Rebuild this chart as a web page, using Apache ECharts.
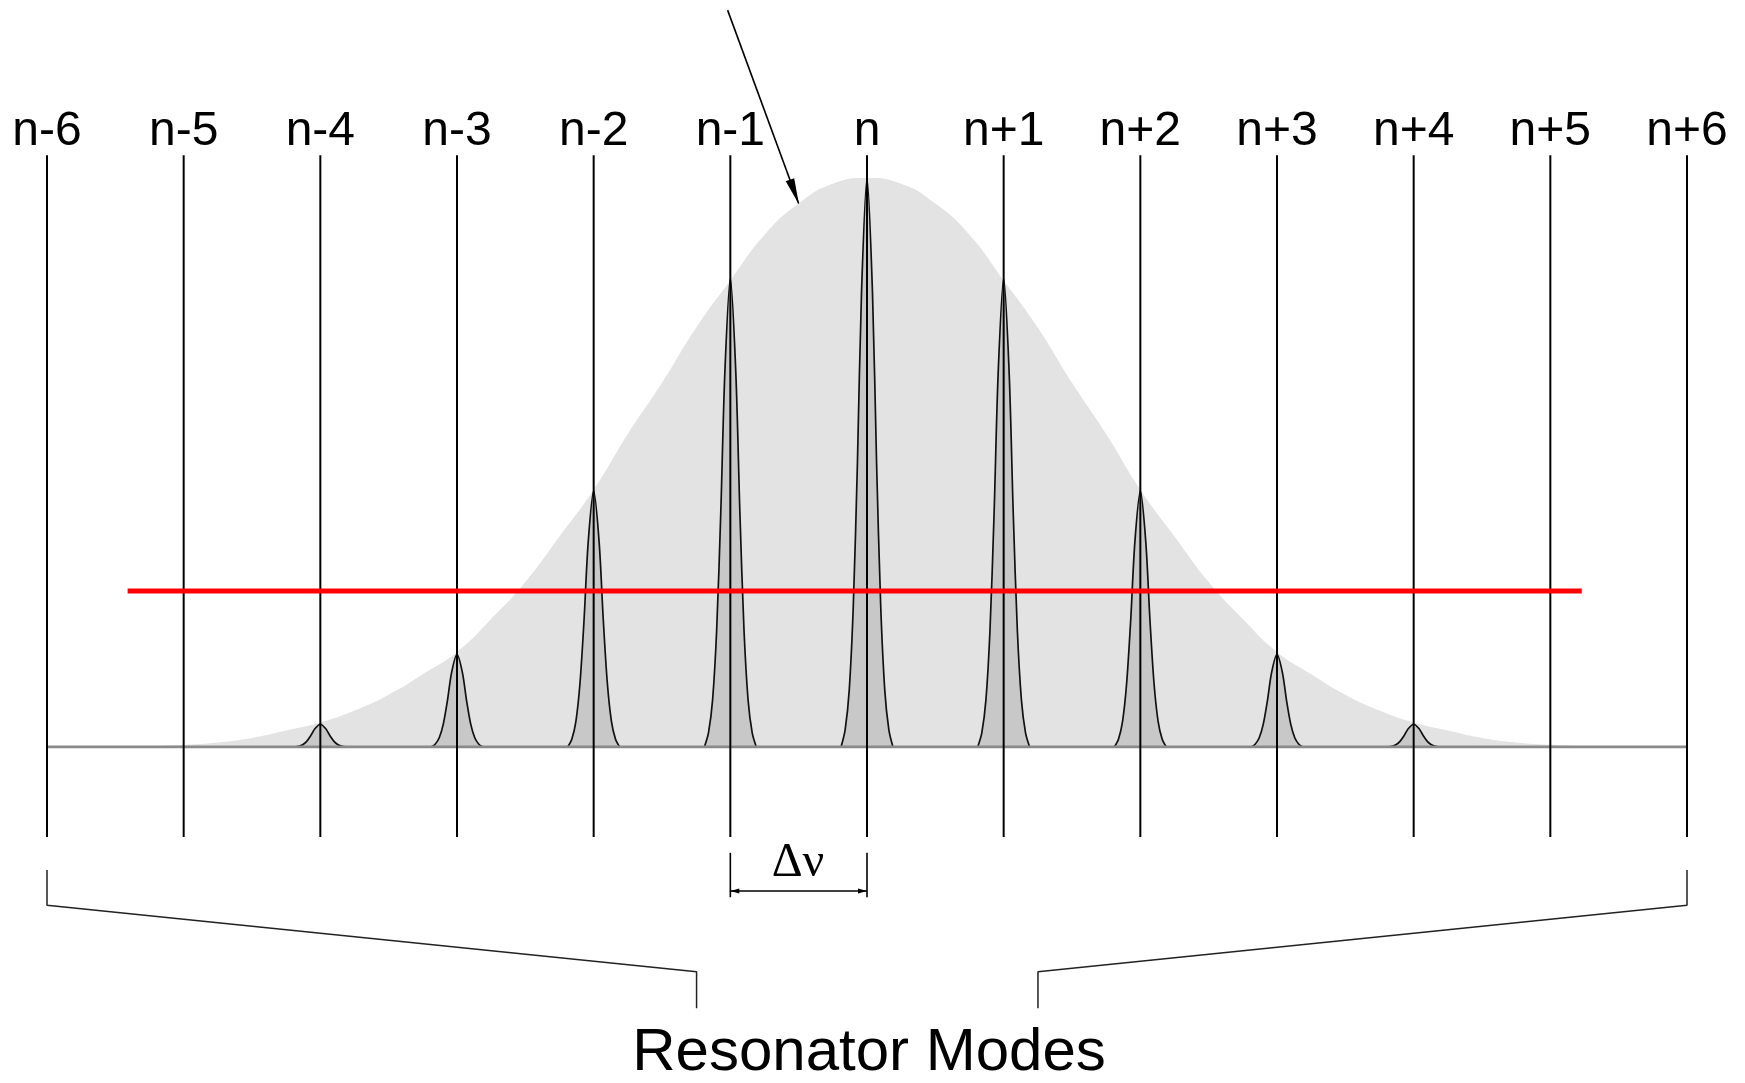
<!DOCTYPE html>
<html>
<head>
<meta charset="utf-8">
<title>Resonator Modes</title>
<script src="https://cdn.jsdelivr.net/npm/echarts@6/dist/echarts.min.js"></script>
<style>
  html, body { margin: 0; padding: 0; background: #fff; }
  #chart { width: 1745px; height: 1083px; }
</style>
</head>
<body>
<div id="chart"></div>
<script>
// resonator modes, x = offset from mode n (in units of mode spacing)
const modeOffsets = [-6, -5, -4, -3, -2, -1, 0, 1, 2, 3, 4, 5, 6]
const modeLabels = ['n-6', 'n-5', 'n-4', 'n-3', 'n-2', 'n-1', 'n', 'n+1', 'n+2', 'n+3', 'n+4', 'n+5', 'n+6']
// height of each mode line, relative to the gain maximum
const modeHeights = [0, 0, 0.04, 0.163, 0.45, 0.823, 1.0, 0.823, 0.45, 0.163, 0.04, 0, 0]

// gain envelope (grey area)
const gainX = [-6, -5.5, -5, -4.75, -4.5, -4.25, -4, -3.75, -3.5, -3.25, -3, -2.75, -2.5, -2.25, -2, -1.75, -1.5, -1.25, -1, -0.75, -0.5, -0.25,
  0, 0.25, 0.5, 0.75, 1, 1.25, 1.5, 1.75, 2, 2.25, 2.5, 2.75, 3, 3.25, 3.5, 3.75, 4, 4.25, 4.5, 4.75, 5, 5.5, 6]
const gainY = [0, 0, 0.004, 0.008, 0.016, 0.029, 0.043, 0.064, 0.092, 0.128, 0.167, 0.225, 0.29, 0.37, 0.452, 0.55, 0.64, 0.737, 0.82, 0.9, 0.955, 0.99,
  1.0, 0.99, 0.955, 0.9, 0.82, 0.737, 0.64, 0.55, 0.452, 0.37, 0.29, 0.225, 0.167, 0.128, 0.092, 0.064, 0.043, 0.029, 0.016, 0.008, 0.004, 0, 0]

// profile of a single mode line: offset from its centre, fraction of its height
const lineShapeX = [-0.19, -0.16, -0.13, -0.1, -0.07, -0.04, 0, 0.04, 0.07, 0.1, 0.13, 0.16, 0.19]
const lineShapeY = [0, 0.03, 0.1, 0.25, 0.5, 0.8, 1, 0.8, 0.5, 0.25, 0.1, 0.03, 0]

// red threshold line
const thresholdLevel = 0.274
const thresholdFrom = -5.41
const thresholdTo = 5.23

const chart = echarts.init(document.getElementById('chart'))

let series = []

// gain envelope
series.push({
  type: 'line',
  data: gainX.map((x, i) => [x, gainY[i]]),
  smooth: 0.5,
  symbol: 'none',
  lineStyle: { width: 0 },
  areaStyle: { color: '#e3e3e3', opacity: 1 },
  z: 1,
  silent: true
})

// mode lines
modeOffsets.forEach((m, i) => {
  if (!modeHeights[i]) return
  series.push({
    type: 'line',
    data: lineShapeX.map((dx, j) => [m + dx, modeHeights[i] * lineShapeY[j]]),
    smooth: 0.3,
    symbol: 'none',
    lineStyle: { color: '#111', width: 1.7 },
    areaStyle: { color: '#c8c8c8', opacity: 1 },
    z: 2,
    silent: true
  })
})

// vertical mode markers
modeOffsets.forEach(m => {
  series.push({
    type: 'line',
    data: [[m, 1.04], [m, -0.158]],
    symbol: 'none',
    clip: false,
    lineStyle: { color: '#000', width: 2 },
    z: 4,
    silent: true
  })
})

// baseline
series.push({
  type: 'line',
  data: [[-6, 0], [6, 0]],
  symbol: 'none',
  lineStyle: { color: '#8a8a8a', width: 3 },
  z: 3,
  silent: true
})

// bottom bracket
const bracketStyle = { color: '#222', width: 1.5 }
series.push({
  type: 'line',
  data: [[-6, -0.216], [-6, -0.278], [-1.247, -0.395], [-1.247, -0.459]],
  symbol: 'none', clip: false, lineStyle: bracketStyle, z: 4, silent: true
})
series.push({
  type: 'line',
  data: [[6, -0.216], [6, -0.278], [1.251, -0.395], [1.251, -0.459]],
  symbol: 'none', clip: false, lineStyle: bracketStyle, z: 4, silent: true
})

// delta-nu bracket between modes n-1 and n
series.push({
  type: 'line',
  data: [[-1, -0.186], [-1, -0.264]],
  symbol: 'none', clip: false, lineStyle: { color: '#000', width: 1.6 }, z: 4, silent: true
})
series.push({
  type: 'line',
  data: [[0, -0.186], [0, -0.264]],
  symbol: 'none', clip: false, lineStyle: { color: '#000', width: 1.6 }, z: 4, silent: true
})
series.push({
  type: 'line',
  data: [[-1, -0.253], [0, -0.253]],
  symbol: 'none', clip: false, lineStyle: { color: '#000', width: 1.6 }, z: 4, silent: true
})

// red threshold
series.push({
  type: 'line',
  data: [[thresholdFrom, thresholdLevel], [thresholdTo, thresholdLevel]],
  symbol: 'none',
  lineStyle: { color: '#ff0000', width: 5 },
  z: 10,
  silent: true
})

let option = {
  animation: false,
  backgroundColor: '#fff',
  grid: { left: 47, right: 58, top: 178, bottom: 336, outerBoundsMode: 'none' },
  xAxis: {
    type: 'value',
    min: -6,
    max: 6,
    interval: 1,
    position: 'top',
    axisLine: { show: false },
    axisTick: { show: false },
    splitLine: { show: false },
    axisLabel: {
      margin: 22,
      fontSize: 48,
      fontFamily: 'Liberation Sans',
      color: '#000',
      showMinLabel: true,
      showMaxLabel: true,
      formatter: v => modeLabels[modeOffsets.indexOf(Math.round(v))]
    }
  },
  yAxis: { type: 'value', min: 0, max: 1, show: false },
  series: series
}
chart.setOption(option)

// annotations placed from axis coordinates
const px = p => chart.convertToPixel({ gridIndex: 0 }, p)

// arrow head polygon pointing at tip, coming from 'from'
function arrowHead(from, tip, len, half) {
  let dx = tip[0] - from[0], dy = tip[1] - from[1]
  let d = Math.sqrt(dx * dx + dy * dy)
  let ux = dx / d, uy = dy / d
  let bx = tip[0] - ux * len, by = tip[1] - uy * len
  return [tip, [bx - uy * half, by + ux * half], [bx + uy * half, by - ux * half]]
}

const arrowFrom = px([-1.02, 1.295])
const arrowTip = px([-0.498, 0.954])
const dnL = px([-1, -0.253])
const dnR = px([0, -0.253])
const dv = px([-0.505, -0.204])

chart.setOption({
  graphic: [
    {
      type: 'line', silent: true,
      shape: { x1: arrowFrom[0], y1: arrowFrom[1], x2: arrowTip[0], y2: arrowTip[1] },
      style: { stroke: '#000', lineWidth: 1.6 }
    },
    {
      type: 'polygon', silent: true,
      shape: { points: arrowHead(arrowFrom, arrowTip, 26, 4.5) },
      style: { fill: '#000' }
    },
    {
      type: 'polygon', silent: true,
      shape: { points: arrowHead(dnR, dnL, 9, 2.5) },
      style: { fill: '#000' }
    },
    {
      type: 'polygon', silent: true,
      shape: { points: arrowHead(dnL, dnR, 9, 2.5) },
      style: { fill: '#000' }
    },
    {
      type: 'text', x: dv[0], y: dv[1], silent: true,
      style: { text: 'Δν', font: '48px "Liberation Serif"', fill: '#000', textAlign: 'center', textVerticalAlign: 'middle' }
    },
    {
      type: 'text', x: 869, y: 1053, silent: true,
      style: { text: 'Resonator Modes', font: '60px "Liberation Sans"', fill: '#000', textAlign: 'center', textVerticalAlign: 'middle' }
    }
  ]
})
</script>
</body>
</html>
